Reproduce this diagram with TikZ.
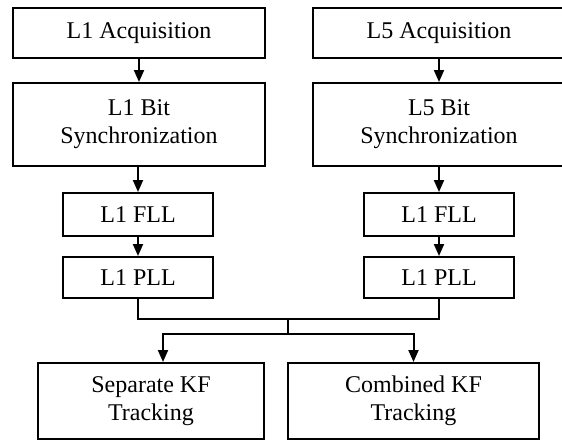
\documentclass[tikz,border=0pt]{standalone}
\usepackage{fontspec}
\setmainfont{Liberation Serif}
\usetikzlibrary{arrows.meta}
\begin{document}
\begin{tikzpicture}[x=0.5pt,y=-0.5pt,
  blk/.style={draw, line width=1pt, inner sep=0pt, align=center,
    font=\fontsize{12}{14}\selectfont},
  flow/.style={line width=1pt, -{Triangle[length=6pt,width=5pt]}},
  wire/.style={line width=1pt}]
\clip (0,0) rectangle (562,441);
\fill[white] (0,0) rectangle (562,441);
% left chain (L1)
\node[blk, minimum width=126pt, minimum height=25pt] (a1) at (139,33) {L1 Acquisition};
\node[blk, minimum width=126pt, minimum height=41.5pt] (b1) at (139,124.5) {L1 Bit\\Synchronization};
\node[blk, minimum width=75pt, minimum height=21.5pt] (f1) at (138,214.5) {L1 FLL};
\node[blk, minimum width=75pt, minimum height=20.5pt] (p1) at (138,277.5) {L1 PLL};
% right chain (L5)
\node[blk, minimum width=126pt, minimum height=25pt] (a5) at (439,33) {L5 Acquisition};
\node[blk, minimum width=126pt, minimum height=41.5pt] (b5) at (439,124.5) {L5 Bit\\Synchronization};
\node[blk, minimum width=75pt, minimum height=21.5pt] (f5) at (439,214.5) {L1 FLL};
\node[blk, minimum width=75pt, minimum height=20.5pt] (p5) at (439,277.5) {L1 PLL};
% tracking back ends
\node[blk, minimum width=113pt, minimum height=38pt] (sep) at (151,401) {Separate KF\\Tracking};
\node[blk, minimum width=125.5pt, minimum height=38pt] (com) at (413.5,401) {Combined KF\\Tracking};
% junction points
\coordinate (jt) at (288,319);
\coordinate (jb) at (288,334);
% vertical arrows
\draw[flow] (a1) -- (b1);
\draw[flow] (b1.south -| f1) -- (f1);
\draw[flow] (f1) -- (p1);
\draw[flow] (a5) -- (b5);
\draw[flow] (b5) -- (f5);
\draw[flow] (f5) -- (p5);
% merge and split
\draw[wire] (p1.south) |- (jt) -| (p5.south);
\draw[wire] (jt) -- (jb);
\draw[flow] (jb) -| ([xshift=6pt]sep.north);
\draw[flow] (jb) -| (com.north);
\end{tikzpicture}
\end{document}
